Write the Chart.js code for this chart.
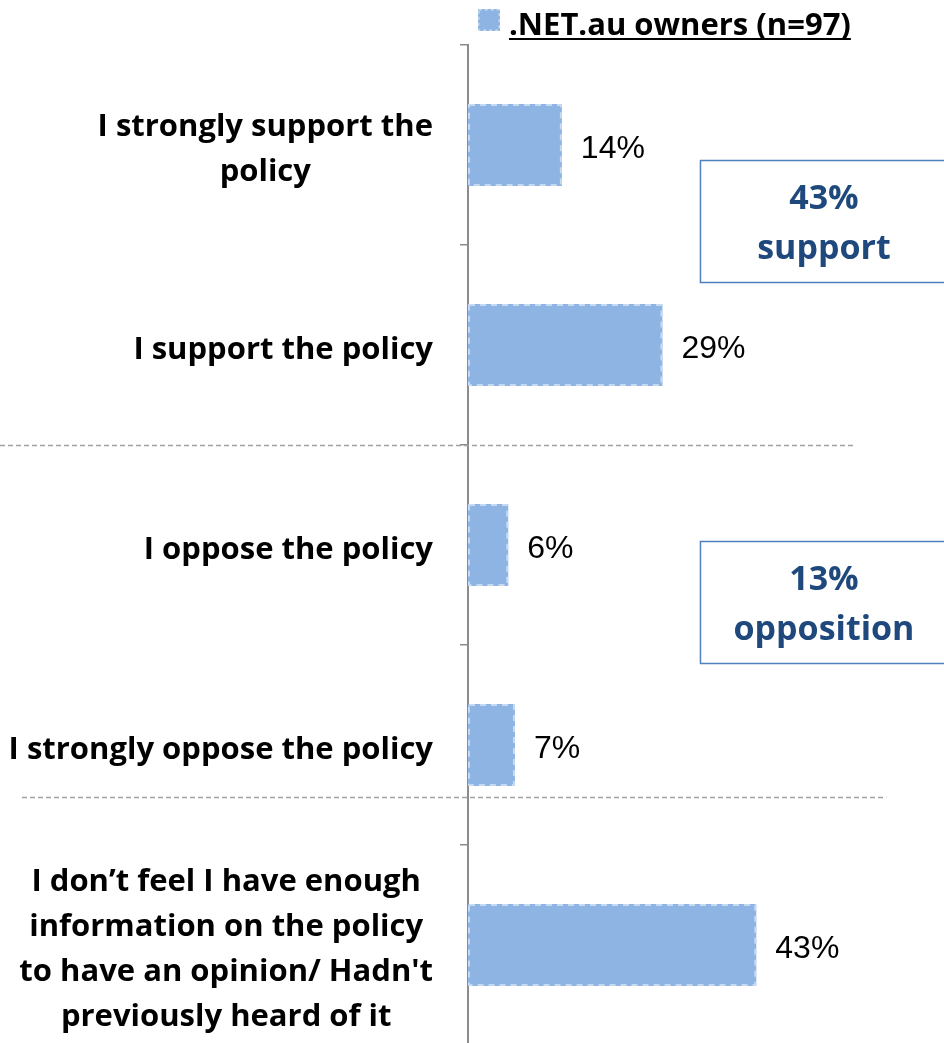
<!DOCTYPE html>
<html>
<head>
<meta charset="utf-8">
<script src="https://cdn.jsdelivr.net/npm/chart.js@4"></script>
<style>
  html, body { margin: 0; padding: 0; background: #fff; overflow: hidden; }
  #chart { display: block; }
</style>
</head>
<body>
<canvas id="chart" width="944" height="1045"></canvas>
<script>
const categories = [
  ['I strongly support the', 'policy'],
  ['I support the policy'],
  ['I oppose the policy'],
  ['I strongly oppose the policy'],
  ['I don\u2019t feel I have enough', 'information on the policy', 'to have an opinion/ Hadn\'t', 'previously heard of it']
];
const ownerShares = [14, 29, 6, 7, 43];
const seriesLabel = '.NET.au owners (n=97)';
const summaryTexts = [['43%', 'support'], ['13%', 'opposition']];

const LABEL_FONT = 'bold 31px "Open Sans", sans-serif';
const VALUE_FONT = '32px "Liberation Sans", Arial, sans-serif';
const BOX_FONT = 'bold 34px "Open Sans", sans-serif';
const BAR_FILL = '#8eb4e3';
const BAR_DASH = '#c6d9f1';

// dashed outline on top of each bar
const dashedBars = {
  id: 'dashedBars',
  afterDatasetsDraw(chart) {
    const ctx = chart.ctx;
    chart.getDatasetMeta(0).data.forEach(bar => {
      const p = bar.getProps(['x', 'y', 'base', 'height'], true);
      ctx.save();
      ctx.strokeStyle = BAR_DASH;
      ctx.lineWidth = 2;
      ctx.setLineDash([6, 5]);
      ctx.strokeRect(p.base + 1, p.y - p.height / 2 + 1, p.x - p.base - 2, p.height - 2);
      ctx.restore();
    });
  }
};

// category labels: block right-aligned, lines centred inside the block
const categoryLabels = {
  id: 'categoryLabels',
  afterDraw(chart) {
    const ctx = chart.ctx;
    const y = chart.scales.y;
    const right = chart.chartArea.left - 35;
    const lineH = 45;
    ctx.save();
    ctx.font = LABEL_FONT;
    ctx.fillStyle = '#000';
    ctx.textAlign = 'center';
    ctx.textBaseline = 'middle';
    categories.forEach((lines, i) => {
      const w = Math.max(...lines.map(l => ctx.measureText(l).width));
      const cx = right - w / 2;
      const cy = y.getPixelForValue(i) + 5;
      lines.forEach((l, k) => {
        ctx.fillText(l, cx, cy + (k - (lines.length - 1) / 2) * lineH);
      });
    });
    ctx.restore();
  }
};

const valueLabels = {
  id: 'valueLabels',
  afterDatasetsDraw(chart) {
    const ctx = chart.ctx;
    ctx.save();
    ctx.font = VALUE_FONT;
    ctx.fillStyle = '#000';
    ctx.textBaseline = 'middle';
    chart.getDatasetMeta(0).data.forEach((bar, i) => {
      ctx.fillText(ownerShares[i] + '%', bar.x + 19, bar.y + 4);
    });
    ctx.restore();
  }
};

// dashed separators between support / opposition / no-opinion groups
const separators = {
  id: 'separators',
  afterDraw(chart, args, opts) {
    const ctx = chart.ctx;
    const x = chart.scales.x, y = chart.scales.y;
    ctx.save();
    ctx.strokeStyle = '#a0a0a0';
    ctx.lineWidth = 1.5;
    ctx.setLineDash([5, 3]);
    opts.lines.forEach(s => {
      const py = Math.round(y.getPixelForValue(s.at)) + 0.5;
      ctx.beginPath();
      ctx.moveTo(s.from, py);
      ctx.lineTo(x.getPixelForValue(s.to), py);
      ctx.stroke();
    });
    ctx.restore();
  }
};

const summaryBoxes = {
  id: 'summaryBoxes',
  afterDraw(chart, args, opts) {
    const ctx = chart.ctx;
    const x = chart.scales.x, y = chart.scales.y;
    ctx.save();
    opts.boxes.forEach((b, i) => {
      const left = x.getPixelForValue(b.xFrom);
      const top = y.getPixelForValue(b.yFrom);
      const bottom = y.getPixelForValue(b.yTo);
      const w = 248;
      ctx.fillStyle = '#fff';
      ctx.fillRect(left, top, w, bottom - top);
      ctx.strokeStyle = '#4f81bd';
      ctx.lineWidth = 1.5;
      ctx.strokeRect(left + 0.5, top + 0.5, w, bottom - top);
      ctx.fillStyle = '#1f497d';
      ctx.font = BOX_FONT;
      ctx.textAlign = 'center';
      ctx.textBaseline = 'middle';
      const cx = left + w / 2;
      const cy = (top + bottom) / 2;
      ctx.fillText(summaryTexts[i][0], cx, cy - 22);
      ctx.fillText(summaryTexts[i][1], cx, cy + 28);
    });
    ctx.restore();
  }
};

const legendTitle = {
  id: 'legendTitle',
  afterDraw(chart) {
    const ctx = chart.ctx;
    const sx = 478, sy = 9, s = 22;
    ctx.save();
    ctx.fillStyle = BAR_FILL;
    ctx.fillRect(sx, sy, s, s);
    ctx.strokeStyle = BAR_DASH;
    ctx.lineWidth = 1.5;
    ctx.setLineDash([3, 3]);
    ctx.strokeRect(sx + 0.75, sy + 0.75, s - 1.5, s - 1.5);
    ctx.setLineDash([]);
    ctx.font = LABEL_FONT;
    ctx.fillStyle = '#000';
    ctx.textBaseline = 'alphabetic';
    const tx = 509, ty = 35;
    ctx.fillText(seriesLabel, tx, ty);
    const w = ctx.measureText(seriesLabel).width;
    ctx.fillRect(tx, ty + 3, w, 2);
    ctx.restore();
  }
};

new Chart(document.getElementById('chart'), {
  type: 'bar',
  data: {
    labels: categories,
    datasets: [{
      label: seriesLabel,
      data: ownerShares,
      backgroundColor: BAR_FILL,
      borderWidth: 0,
      categoryPercentage: 1,
      barPercentage: 0.41
    }]
  },
  options: {
    indexAxis: 'y',
    responsive: false,
    animation: false,
    layout: { padding: { top: 45, left: 0, right: 0, bottom: 0 } },
    plugins: {
      legend: { display: false },
      tooltip: { enabled: false },
      separators: {
        lines: [
          { at: 1.5, from: 0, to: 57.5 },
          { at: 3.26, from: 22, to: 62.4 }
        ]
      },
      summaryBoxes: {
        boxes: [
          { xFrom: 34.6, yFrom: 0.075, yTo: 0.685 },
          { xFrom: 34.6, yFrom: 1.98, yTo: 2.59 }
        ]
      }
    },
    scales: {
      x: { display: false, min: 0, max: 71 },
      y: {
        grid: {
          offset: true,
          drawOnChartArea: false,
          drawTicks: true,
          tickLength: 8,
          color: '#8c8c8c',
          lineWidth: 1.5
        },
        border: { display: true, color: '#8c8c8c', width: 2 },
        ticks: { display: false },
        afterFit(scale) { scale.width = 468; }
      }
    }
  },
  plugins: [dashedBars, valueLabels, separators, summaryBoxes, categoryLabels, legendTitle]
});
</script>
</body>
</html>
